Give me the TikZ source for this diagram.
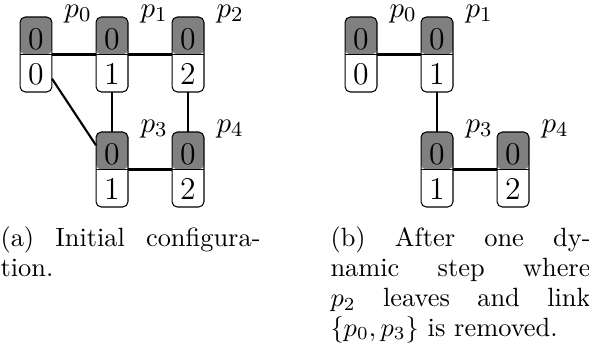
\documentclass[tikz,border=0pt]{standalone}
\usetikzlibrary{calc}
\setlength{\parindent}{0pt}
\newcommand{\capskip}{\baselineskip=11.3pt\relax}
\begin{document}
\begin{tikzpicture}[x=0.3788pt,y=-0.3788pt,
  proc/.style={draw, line width=0.4pt, rounded corners=2pt, minimum width=12.1pt,
    minimum height=28.4pt, inner sep=0pt, outer sep=0pt,
    path picture={\fill[gray] (path picture bounding box.north west) rectangle (path picture bounding box.east);
      \draw[line width=0.4pt] (path picture bounding box.west) -- (path picture bounding box.east);}},
  num/.style={inner sep=0pt, font=\fontsize{12}{14}\selectfont},
  lbl/.style={inner sep=0pt, font=\fontsize{11}{13}\selectfont, anchor=base west},
  link/.style={line width=0.8pt},
  captext/.style={inner sep=0pt, anchor=north west, text width=98.5pt, align=justify,
    font=\fontsize{10}{11.3}\selectfont}]
\useasboundingbox (0,0) rectangle (589,345);
% panel (a)
\node[proc] (a0) at (36,54.5) {};
\node[proc] (a1) at (112,54.5) {};
\node[proc] (a2) at (188,54.5) {};
\node[proc] (a3) at (112,169.5) {};
\node[proc] (a4) at (188,169.5) {};
% panel (b)
\node[proc] (b0) at (361,54.5) {};
\node[proc] (b1) at (437,54.5) {};
\node[proc] (b3) at (437,169.5) {};
\node[proc] (b4) at (513,169.5) {};
% numbers
\foreach \n/\v in {a0/0,a1/1,a2/2,a3/1,a4/2,b0/0,b1/1,b3/1,b4/2}{
  \node[num] (\n t) at ($(\n)+(0,-15.5)$) {0};
  \node[num] (\n b) at ($(\n)+(0,19.5)$) {\v};
}
% labels
\foreach \n/\i in {a0/0,a1/1,a2/2,a3/3,a4/4,b0/0,b1/1,b3/3,b4/4}{
  \node[lbl] (\n l) at ($(\n.north east)+(12,0.5)$) {$p_{\i}$};
}
% links
\draw[link] (a0) -- (a1);
\draw[link] (a1) -- (a2);
\draw[link] (a1) -- (a3);
\draw[link] (a2) -- (a4);
\draw[link] (a0) -- (a3);
\draw[link] (a3) -- (a4);
\draw[link] (b0) -- (b1);
\draw[link] (b1) -- (b3);
\draw[link] (b3) -- (b4);
% captions
\node[captext] (capa) at (0,226.2) {\capskip(a) Initial configura-\linebreak tion.};
\node[captext] (capb) at (330,226.2) {\capskip(b) After one dy-\linebreak namic step where\linebreak $p_2$ leaves and link\linebreak $\{p_0,p_3\}$ is removed.};
\end{tikzpicture}
\end{document}
